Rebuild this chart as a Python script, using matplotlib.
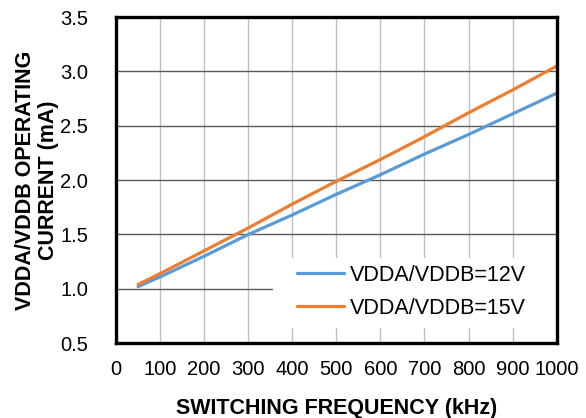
import matplotlib.pyplot as plt
from matplotlib.patches import Rectangle

# operating current vs switching frequency
freq_khz = [50, 100, 200, 300, 400, 500, 600, 700, 800, 900, 1000]
idd_12v = [1.02, 1.11, 1.30, 1.50, 1.68, 1.87, 2.05, 2.24, 2.42, 2.61, 2.80]
idd_15v = [1.04, 1.14, 1.35, 1.56, 1.78, 1.99, 2.19, 2.40, 2.62, 2.83, 3.05]

x_ticks = [0, 100, 200, 300, 400, 500, 600, 700, 800, 900, 1000]
y_ticks = [0.5, 1.0, 1.5, 2.0, 2.5, 3.0, 3.5]

plt.rcParams['font.family'] = ['Liberation Sans', 'DejaVu Sans']

fig = plt.figure(figsize=(5.86, 4.18), dpi=100)
ax = fig.add_axes([0.198, 0.179, 0.752, 0.78])

for x in x_ticks[1:-1]:
    ax.axvline(x, color='#bfbfbf', lw=1.0, zorder=0)
for y in y_ticks[1:-1]:
    ax.axhline(y, color='#595959', lw=1.0, zorder=0)

ax.plot(freq_khz, idd_12v, color='#5B9BD5', lw=2.3, label='VDDA/VDDB=12V',
        solid_capstyle='round', zorder=3)
ax.plot(freq_khz, idd_15v, color='#ED7D31', lw=2.3, label='VDDA/VDDB=15V',
        solid_capstyle='round', zorder=3)

# white box behind the legend, hides the grid there
ax.add_patch(Rectangle((0.356, 0.046), 0.644, 0.214, transform=ax.transAxes,
                       facecolor='white', edgecolor='none', zorder=1))

ax.set_xlim(0, 1000)
ax.set_ylim(0.5, 3.5)
ax.set_xticks(x_ticks)
ax.set_yticks(y_ticks)
ax.set_yticklabels([f'{v:.1f}' for v in y_ticks])
ax.tick_params(length=0, labelsize=14.5)
ax.tick_params(axis='x', pad=12)
ax.tick_params(axis='y', pad=20)

for s in ax.spines.values():
    s.set_linewidth(2.4)
    s.set_color('black')
    s.set_zorder(4)

ax.set_xlabel('SWITCHING FREQUENCY (kHz)', fontsize=15.5, fontweight='bold', labelpad=14)
ax.set_ylabel('VDDA/VDDB OPERATING\nCURRENT (mA)', fontsize=15.5, fontweight='bold',
              labelpad=1, linespacing=1.1)

leg = ax.legend(loc='center left', bbox_to_anchor=(0.41, 0.158), fontsize=15.5,
                frameon=False, handlelength=2.2, borderpad=0.0,
                labelspacing=0.55, handletextpad=0.25, borderaxespad=0.0)
leg.set_zorder(5)

fig.savefig('out.png', dpi=100)
